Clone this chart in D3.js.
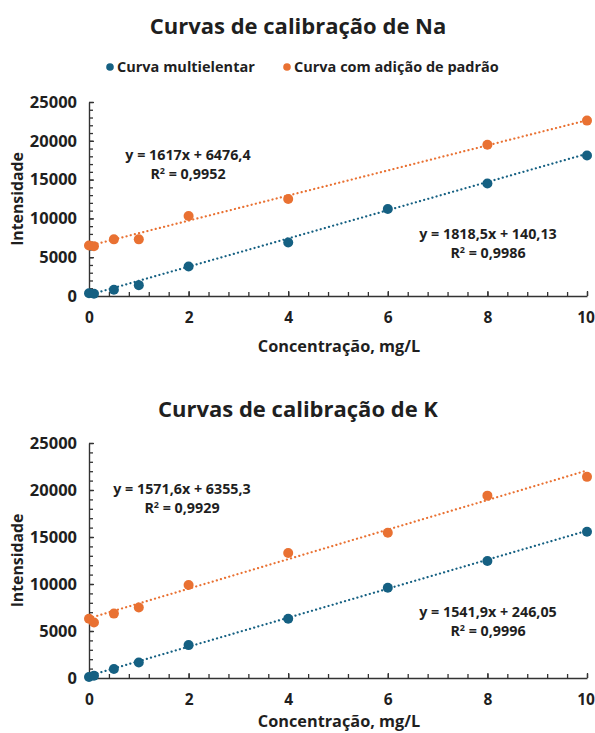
<!DOCTYPE html>
<html>
<head>
<meta charset="utf-8">
<script src="https://cdn.jsdelivr.net/npm/d3@7"></script>
<style>
  body { margin: 0; background: #fff; }
  text { font-family: "Open Sans", Roboto, sans-serif; font-weight: bold; fill: #1f1f1f; }
</style>
</head>
<body>
<svg id="chart" width="595" height="733"></svg>
<script>
// concentrations (mg/L)
const conc = [0, 0.1, 0.5, 1, 2, 4, 6, 8, 10];
const concNaAdicao = [0, 0.1, 0.5, 1, 2, 4, 8, 10];

// Na intensities
const naMulti = [350, 300, 800, 1400, 3800, 6900, 11200, 14500, 18100];
const naAdicao = [6500, 6400, 7300, 7300, 10300, 12500, 19500, 22600];

// K intensities
const kMulti = [100, 250, 950, 1650, 3500, 6300, 9600, 12450, 15550];
const kAdicao = [6300, 5900, 6850, 7500, 9900, 13300, 15450, 19400, 21400];

// trendline coefficients [slope, intercept] and labels
const naMultiFit = [1818.5, 140.13];
const naAdicaoFit = [1617, 6476.4];
const kMultiFit = [1541.9, 246.05];
const kAdicaoFit = [1571.6, 6355.3];
const naMultiEq = ['y = 1818,5x + 140,13', '0,9986'];
const naAdicaoEq = ['y = 1617x + 6476,4', '0,9952'];
const kMultiEq = ['y = 1541,9x + 246,05', '0,9996'];
const kAdicaoEq = ['y = 1571,6x + 6355,3', '0,9929'];

const seriesNames = ['Curva multielentar', 'Curva com adição de padrão'];
const yTicks = [0, 5000, 10000, 15000, 20000, 25000];
const xTicks = [0, 2, 4, 6, 8, 10];

const blue = '#156082', orange = '#E97132';
const svg = d3.select('#chart');

function drawPanel(p) {
  const g = svg.append('g');
  const x = d3.scaleLinear().domain([0, 10]).range([89, 587]);
  const y = d3.scaleLinear().domain([0, 25000]).range([p.bottom, p.top]);

  g.append('text')
    .attr('x', 298).attr('y', p.titleY)
    .attr('text-anchor', 'middle')
    .style('font-size', '22px')
    .text(p.title);

  // minor ticks
  g.append('g').attr('transform', 'translate(89,0)')
    .call(d3.axisLeft(y).tickValues(d3.range(0, 25001, 1000)).tickSize(-4).tickFormat(''))
    .call(a => a.select('.domain').remove());
  g.append('g').attr('transform', `translate(0,${p.bottom})`)
    .call(d3.axisBottom(x).tickValues(d3.range(0, 10.01, 0.4)).tickSize(-4).tickFormat(''))
    .call(a => a.select('.domain').remove());

  // main axes
  const yAxis = g.append('g').attr('transform', 'translate(89,0)')
    .call(d3.axisLeft(y).tickValues(yTicks).tickFormat(d3.format('d')).tickSize(-5).tickSizeOuter(0).tickPadding(12));
  const xAxis = g.append('g').attr('transform', `translate(0,${p.bottom})`)
    .call(d3.axisBottom(x).tickValues(xTicks).tickFormat(d3.format('d')).tickSize(-5).tickSizeOuter(0).tickPadding(16));
  yAxis.selectAll('text').style('font-size', '16.5px');
  xAxis.selectAll('text').style('font-size', '15.5px');
  xAxis.selectAll('.tick text').filter(d => d === 10).attr('dx', -1.5);
  [yAxis, xAxis].forEach(a => {
    a.selectAll('text').attr('fill', '#1f1f1f');
    a.selectAll('line, path').attr('stroke', '#333').attr('stroke-width', 1.4);
  });
  g.selectAll('.tick line').attr('stroke', '#333').attr('stroke-width', 1.3);

  // axis titles
  g.append('text')
    .attr('transform', `translate(23,${(p.top + p.bottom) / 2}) rotate(-90)`)
    .attr('text-anchor', 'middle')
    .style('font-size', '15.8px')
    .text('Intensidade');
  g.append('text')
    .attr('x', 339).attr('y', p.xTitleY)
    .attr('text-anchor', 'middle')
    .style('font-size', '16.3px')
    .text('Concentração, mg/L');

  // trendlines
  const line = d3.line().x(d => x(d[0])).y(d => y(d[1]));
  p.series.forEach(s => {
    g.append('path')
      .datum([0, 10].map(c => [c, s.fit[0] * c + s.fit[1]]))
      .attr('d', line)
      .attr('fill', 'none')
      .attr('stroke', s.color)
      .attr('stroke-width', 2.2)
      .attr('stroke-linecap', 'round')
      .attr('stroke-dasharray', '0.1,4.2');
  });

  // points
  p.series.forEach(s => {
    g.selectAll(null)
      .data(s.x.map((c, i) => [c, s.y[i]]))
      .enter()
      .append('circle')
      .attr('cx', d => x(d[0]))
      .attr('cy', d => y(d[1]))
      .attr('r', 5)
      .attr('fill', s.color);
  });

  // equation labels
  p.series.forEach(s => {
    const t = g.append('text')
      .attr('text-anchor', 'middle')
      .style('font-size', '14.3px');
    t.append('tspan').attr('x', s.labelX).attr('y', s.labelY).text(s.eq[0]);
    const r = t.append('tspan').attr('x', s.labelX).attr('y', s.labelY + 19);
    r.append('tspan').text('R');
    r.append('tspan').attr('dy', -5).style('font-size', '9px').text('2');
    r.append('tspan').attr('dy', 5).text(' = ' + s.eq[1]);
  });

  // legend
  if (p.legend) {
    const lg = g.append('g');
    const items = [{ name: seriesNames[0], color: blue, x: 110 }, { name: seriesNames[1], color: orange, x: 287 }];
    items.forEach(it => {
      lg.append('circle').attr('cx', it.x).attr('cy', 67).attr('r', 3.8).attr('fill', it.color);
      lg.append('text').attr('x', it.x + 7).attr('y', 72).style('font-size', '14.5px').text(it.name);
    });
  }
}

drawPanel({
  title: 'Curvas de calibração de Na',
  titleY: 34, top: 102, bottom: 296, xTitleY: 352, legend: true,
  series: [
    { x: conc, y: naMulti, fit: naMultiFit, color: blue, eq: naMultiEq, labelX: 488, labelY: 239 },
    { x: concNaAdicao, y: naAdicao, fit: naAdicaoFit, color: orange, eq: naAdicaoEq, labelX: 188, labelY: 160 }
  ]
});

drawPanel({
  title: 'Curvas de calibração de K',
  titleY: 417, top: 443, bottom: 678, xTitleY: 727, legend: false,
  series: [
    { x: conc, y: kMulti, fit: kMultiFit, color: blue, eq: kMultiEq, labelX: 488, labelY: 617 },
    { x: conc, y: kAdicao, fit: kAdicaoFit, color: orange, eq: kAdicaoEq, labelX: 182, labelY: 494 }
  ]
});
</script>
</body>
</html>
